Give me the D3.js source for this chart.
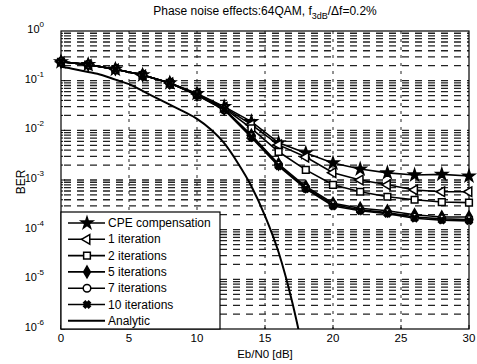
<!DOCTYPE html>
<html>
<head>
<meta charset="utf-8">
<script src="https://cdn.jsdelivr.net/npm/d3@7"></script>
<style>
  body { margin: 0; background: #fff; }
  svg { display: block; font-family: "Liberation Sans", Arial, sans-serif; }
</style>
</head>
<body>
<svg id="chart" width="477" height="364"></svg>
<script>
// Eb/N0 points (dB) for the simulated curves
const ebn0 = [0, 2, 4, 6, 8, 10, 12, 14, 16, 18, 20, 22, 24, 26, 28, 30];
const cpe   = [0.24, 0.21, 0.17, 0.13, 0.09, 0.055, 0.030, 0.015, 5.6e-3, 3.5e-3, 2.2e-3, 1.66e-3, 1.39e-3, 1.26e-3, 1.3e-3, 1.2e-3];
const iter1 = [0.24, 0.21, 0.17, 0.13, 0.09, 0.054, 0.029, 0.013, 5.1e-3, 2.9e-3, 1.4e-3, 1.0e-3, 8e-4, 6.3e-4, 5.8e-4, 5.8e-4];
const iter2 = [0.24, 0.21, 0.17, 0.13, 0.09, 0.053, 0.028, 0.011, 3.7e-3, 1.6e-3, 8e-4, 5.8e-4, 4.6e-4, 4.0e-4, 3.6e-4, 3.5e-4];
const iter5 = [0.24, 0.21, 0.17, 0.13, 0.09, 0.052, 0.027, 8.0e-3, 2.1e-3, 7.4e-4, 3.4e-4, 2.7e-4, 2.4e-4, 2.0e-4, 1.8e-4, 1.8e-4];
const iter7 = [0.24, 0.21, 0.17, 0.13, 0.09, 0.052, 0.026, 7.5e-3, 2.0e-3, 6.9e-4, 3.2e-4, 2.5e-4, 2.2e-4, 1.8e-4, 1.65e-4, 1.6e-4];
const iter10 = [0.24, 0.21, 0.17, 0.13, 0.09, 0.051, 0.026, 7.2e-3, 1.9e-3, 6.6e-4, 3.0e-4, 2.4e-4, 2.1e-4, 1.7e-4, 1.55e-4, 1.5e-4];

// analytic curve
const anaX = [0, 1, 2, 3, 4, 5, 6, 7, 8, 9, 10, 11, 12, 13, 14, 15, 16, 17, 18];
const anaY = [0.19, 0.17, 0.15, 0.13, 0.105, 0.085, 0.062, 0.045, 0.033, 0.024, 0.017, 0.0105, 0.0055, 0.0022, 7.5e-4, 1.9e-4, 3.5e-5, 3.5e-6, 2e-7];

const xTicks = [0, 5, 10, 15, 20, 25, 30];
const yExps = [0, -1, -2, -3, -4, -5, -6];

const series = [
  {name: "CPE compensation", y: cpe, sym: d3.symbolStar, size: 42, fill: "#000", rot: 0},
  {name: "1 iteration", y: iter1, sym: d3.symbolTriangle, size: 40, fill: "#fff", rot: -90},
  {name: "2 iterations", y: iter2, sym: d3.symbolSquare, size: 45, fill: "#fff", rot: 0},
  {name: "5 iterations", y: iter5, sym: d3.symbolDiamond, size: 40, fill: "#000", rot: 0},
  {name: "7 iterations", y: iter7, sym: d3.symbolCircle, size: 45, fill: "#fff", rot: 0},
  {name: "10 iterations", y: iter10, sym: d3.symbolCross, size: 28, fill: "#000", rot: 45},
];

const svg = d3.select("#chart");
const L = 61, R = 469, T = 31, B = 329;

const x = d3.scaleLinear().domain([0, 30]).range([L, R]);
const y = d3.scaleLog().domain([1e-6, 1]).range([B, T]);

// grid
const grid = svg.append("g").attr("stroke", "#222").attr("fill", "none");
const minorVals = [];
for (let e = -6; e < 0; e++) for (let m = 1; m < 10; m++) minorVals.push(m * Math.pow(10, e));
grid.selectAll(".hg").data(minorVals.slice(1)).join("line")
  .attr("x1", L).attr("x2", R)
  .attr("y1", d => y(d)).attr("y2", d => y(d))
  .attr("stroke-width", 1.3)
  .attr("stroke-dasharray", "7,6")
  .attr("stroke-dashoffset", -3);
grid.selectAll(".vg").data(xTicks.slice(1, -1)).join("line")
  .attr("x1", d => x(d)).attr("x2", d => x(d))
  .attr("y1", T).attr("y2", B)
  .attr("stroke-width", 1)
  .attr("stroke-dasharray", "3,5");

// axes box
svg.append("rect").attr("x", L).attr("y", T).attr("width", R - L).attr("height", B - T)
  .attr("fill", "none").attr("stroke", "#000").attr("stroke-width", 1.2);

// ticks
const ax = svg.append("g").attr("stroke", "#000");
ax.selectAll(".xt").data(xTicks).join("line")
  .attr("x1", d => x(d)).attr("x2", d => x(d)).attr("y1", B).attr("y2", B - 4);
ax.selectAll(".yt").data(minorVals).join("line")
  .attr("x1", L).attr("x2", d => (Math.abs(Math.log10(d) - Math.round(Math.log10(d))) < 1e-9) ? L + 4 : L + 2)
  .attr("y1", d => y(d)).attr("y2", d => y(d));

svg.append("g").selectAll("text").data(xTicks).join("text")
  .attr("x", d => x(d)).attr("y", 342)
  .attr("text-anchor", "middle").attr("font-size", 11.5)
  .text(d => d);

const yl = svg.append("g").selectAll("text").data(yExps).join("text")
  .attr("x", 44).attr("y", d => y(Math.pow(10, d)) + 2)
  .attr("text-anchor", "end").attr("font-size", 11);
yl.append("tspan").text("10");
yl.append("tspan").attr("dy", -6).attr("font-size", 8).text(d => d);

// clip
svg.append("clipPath").attr("id", "clip").append("rect")
  .attr("x", L).attr("y", T).attr("width", R - L).attr("height", B - T);

const line = d3.line().x(d => x(d[0])).y(d => y(d[1]));
const plot = svg.append("g").attr("clip-path", "url(#clip)");

plot.append("path")
  .datum(anaX.map((v, i) => [v, anaY[i]]))
  .attr("d", d3.line().curve(d3.curveMonotoneX).x(d => x(d[0])).y(d => y(d[1])))
  .attr("fill", "none").attr("stroke", "#000").attr("stroke-width", 2);

series.forEach(s => {
  const pts = ebn0.map((v, i) => [v, s.y[i]]);
  plot.append("path").datum(pts).attr("d", line)
    .attr("fill", "none").attr("stroke", "#000").attr("stroke-width", 1.6);
  const sym = d3.symbol().type(s.sym).size(s.size);
  svg.append("g").selectAll("path").data(pts).join("path")
    .attr("d", sym)
    .attr("transform", d => `translate(${x(d[0])},${y(d[1])}) rotate(${s.rot})`)
    .attr("fill", s.fill).attr("stroke", "#000").attr("stroke-width", 1.5);
});

// legend
const lg = svg.append("g");
lg.append("rect").attr("x", L).attr("y", 212).attr("width", 159).attr("height", B - 212)
  .attr("fill", "#fff").attr("stroke", "#000").attr("stroke-width", 1.2);
const legItems = series.concat([{name: "Analytic", sym: null}]);
legItems.forEach((s, i) => {
  const ly = 223 + i * 16.3;
  lg.append("line").attr("x1", 68).attr("x2", 105).attr("y1", ly).attr("y2", ly)
    .attr("stroke", "#000").attr("stroke-width", s.sym ? 1.6 : 2);
  if (s.sym) {
    lg.append("path").attr("d", d3.symbol().type(s.sym).size(s.size))
      .attr("transform", `translate(87,${ly}) rotate(${s.rot})`)
      .attr("fill", s.fill).attr("stroke", "#000").attr("stroke-width", 1.5);
  }
  lg.append("text").attr("x", 108).attr("y", ly + 4).attr("font-size", 12).text(s.name);
});

// title and labels
const title = svg.append("text").attr("x", 265).attr("y", 15)
  .attr("text-anchor", "middle").attr("font-size", 12);
title.append("tspan").text("Phase noise effects:64QAM, f");
title.append("tspan").attr("dy", 4).attr("font-size", 9).text("3dB");
title.append("tspan").attr("dy", -4).text("/\u0394f=0.2%");

svg.append("text").attr("x", 265).attr("y", 358).attr("text-anchor", "middle")
  .attr("font-size", 11.5).text("Eb/N0 [dB]");
svg.append("text").attr("transform", "translate(25,182) rotate(-90)")
  .attr("text-anchor", "middle").attr("font-size", 12).text("BER");
</script>
</body>
</html>
